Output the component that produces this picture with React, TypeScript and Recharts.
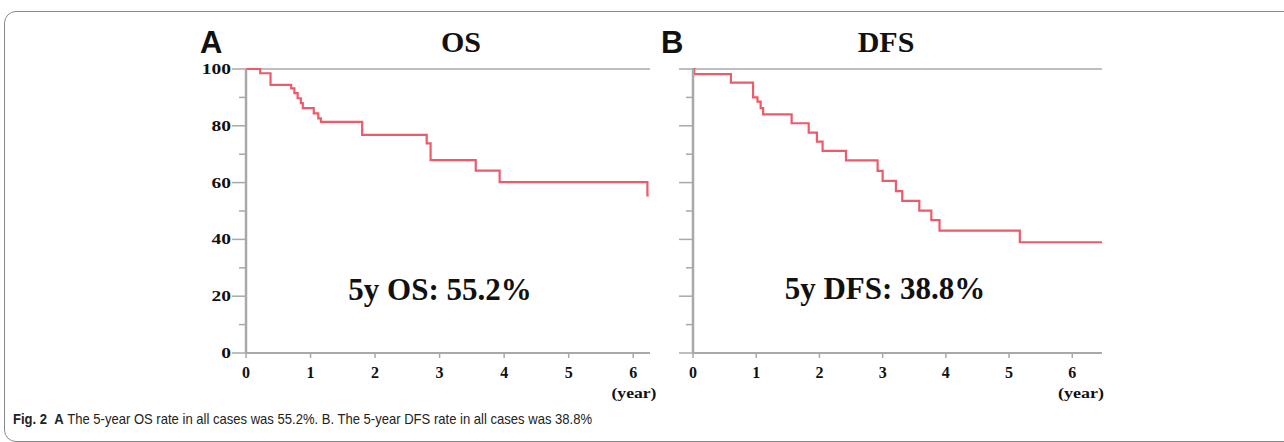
import React from 'react';
import { LineChart, Line, XAxis, YAxis, ReferenceLine } from 'recharts';

// Overall survival (A): step times in years and survival %
const osTimes = [0, 0.22, 0.38, 0.70, 0.75, 0.80, 0.85, 0.88, 1.05, 1.12, 1.16, 1.80, 2.80, 2.86, 3.56, 3.93, 6.22];
const osValues = [100, 98.5, 94.4, 93.2, 91.5, 89.7, 88.0, 86.2, 84.4, 82.6, 81.4, 76.8, 73.8, 67.9, 64.2, 60.2, 55.5];
const osEnd = 6.24;

// Disease-free survival (B)
const dfsTimes = [0, 0.02, 0.60, 0.95, 1.02, 1.07, 1.11, 1.56, 1.83, 1.96, 2.05, 2.42, 2.92, 3.00, 3.21, 3.31, 3.58, 3.77, 3.90, 5.17];
const dfsValues = [100, 98.2, 95.2, 90.0, 88.5, 86.2, 84.0, 80.9, 77.6, 74.4, 71.2, 67.8, 64.1, 60.6, 57.0, 53.6, 50.1, 46.8, 43.1, 39.0];
const dfsEnd = 6.47;

const xTicks = [0, 1, 2, 3, 4, 5, 6];
const yTicks = [0, 10, 20, 30, 40, 50, 60, 70, 80, 90, 100];

const AXIS = '#a9a9a9';
const CURVE = '#ee5a6a';
const SERIF = '"Liberation Serif", "Times New Roman", serif';
const SANS = '"Liberation Sans", Arial, sans-serif';

const toRows = (times: number[], values: number[], end: number) => {
  const rows = times.map((t, i) => ({ t, s: values[i] }));
  rows.push({ t: end, s: values[values.length - 1] });
  return rows;
};

const YTick = (props: any) => {
  const { x, y, payload, showLabels } = props;
  const major = payload.value % 20 === 0;
  return (
    <g>
      <line x1={x - (major ? 14 : 7)} x2={x} y1={y} y2={y} stroke={AXIS} strokeWidth={1.5} />
      {major && showLabels && (
        <text
          transform={`translate(${x - 15},${y + 5}) scale(1.3,1)`}
          textAnchor="end"
          fontFamily={SERIF}
          fontWeight="bold"
          fontSize={15}
          fill="#111"
        >
          {payload.value}
        </text>
      )}
    </g>
  );
};

const XTick = (props: any) => {
  const { x, y, payload } = props;
  return (
    <g>
      <line x1={x} x2={x} y1={y} y2={y + 5} stroke={AXIS} strokeWidth={1.5} />
      <text x={x} y={y + 25} textAnchor="middle" fontFamily={SERIF} fontWeight="bold" fontSize={16} fill="#111">
        {payload.value}
      </text>
    </g>
  );
};

interface PanelProps {
  rows: { t: number; s: number }[];
  xMax: number;
  yAxisWidth: number;
  width: number;
  showLabels: boolean;
}

const Panel: React.FC<PanelProps> = ({ rows, xMax, yAxisWidth, width, showLabels }) => (
  <LineChart width={width} height={343} data={rows} margin={{ top: 29, right: 0, left: 0, bottom: 0 }}>
    <XAxis
      dataKey="t"
      type="number"
      domain={[0, xMax]}
      ticks={xTicks}
      interval={0}
      allowDataOverflow
      height={30}
      tickSize={0}
      tickMargin={0}
      tickLine={false}
      axisLine={{ stroke: AXIS, strokeWidth: 2.2 }}
      tick={<XTick />}
    />
    <YAxis
      type="number"
      domain={[0, 100]}
      ticks={yTicks}
      interval={0}
      width={yAxisWidth}
      tickSize={0}
      tickMargin={0}
      tickLine={false}
      axisLine={{ stroke: AXIS, strokeWidth: 2.5 }}
      tick={<YTick showLabels={showLabels} />}
    />
    <ReferenceLine y={100} stroke={AXIS} strokeWidth={1.6} />
    <Line
      type="stepAfter"
      dataKey="s"
      stroke={CURVE}
      strokeWidth={2.2}
      dot={false}
      isAnimationActive={false}
    />
  </LineChart>
);

export default function App() {
  const osRows = toRows(osTimes, osValues, osEnd);
  const dfsRows = toRows(dfsTimes, dfsValues, dfsEnd);

  return (
    <div style={{ position: 'absolute', left: 0, top: 0, width: 1284, height: 442, background: '#fff', overflow: 'hidden' }}>
      <div
        style={{
          position: 'absolute',
          left: 4,
          top: 11,
          width: 1310,
          height: 429,
          border: '1px solid #8a8a8a',
          borderRadius: 12,
        }}
      />
      <div style={{ position: 'absolute', left: 180, top: 40 }}>
        <Panel rows={osRows} xMax={6.26} yAxisWidth={66} width={470} showLabels />
      </div>
      <div style={{ position: 'absolute', left: 640, top: 40 }}>
        <Panel rows={dfsRows} xMax={6.47} yAxisWidth={53} width={462} showLabels={false} />
      </div>
      <svg width={1284} height={442} style={{ position: 'absolute', left: 0, top: 0, pointerEvents: 'none' }}>
        <text x={200} y={53} fontFamily={SANS} fontWeight="bold" fontSize={31} fill="#111">A</text>
        <text x={661} y={53} fontFamily={SANS} fontWeight="bold" fontSize={31} fill="#111">B</text>
        <text x={461} y={52} textAnchor="middle" fontFamily={SERIF} fontWeight="bold" fontSize={30} fill="#111">OS</text>
        <text x={886} y={52} textAnchor="middle" fontFamily={SERIF} fontWeight="bold" fontSize={30} fill="#111">DFS</text>
        <text x={440} y={300} textAnchor="middle" fontFamily={SERIF} fontWeight="bold" fontSize={31} fill="#111">5y OS: 55.2%</text>
        <text x={885} y={299} textAnchor="middle" fontFamily={SERIF} fontWeight="bold" fontSize={31} fill="#111">5y DFS: 38.8%</text>
        <text x={634} y={398} textAnchor="middle" fontFamily={SERIF} fontWeight="bold" fontSize={14} fill="#111" textLength={45} lengthAdjust="spacingAndGlyphs">(year)</text>
        <text x={1081} y={398} textAnchor="middle" fontFamily={SERIF} fontWeight="bold" fontSize={14} fill="#111" textLength={46} lengthAdjust="spacingAndGlyphs">(year)</text>
      </svg>
      <div
        style={{
          position: 'absolute',
          left: 13,
          top: 410,
          fontFamily: SANS,
          fontSize: 15,
          color: '#222',
          whiteSpace: 'pre',
          transform: 'scaleX(0.87)',
          transformOrigin: 'left top',
        }}
      >
        <b>Fig. 2</b>{'  '}<b>A</b> The 5-year OS rate in all cases was 55.2%. B. The 5-year DFS rate in all cases was 38.8%
      </div>
    </div>
  );
}
